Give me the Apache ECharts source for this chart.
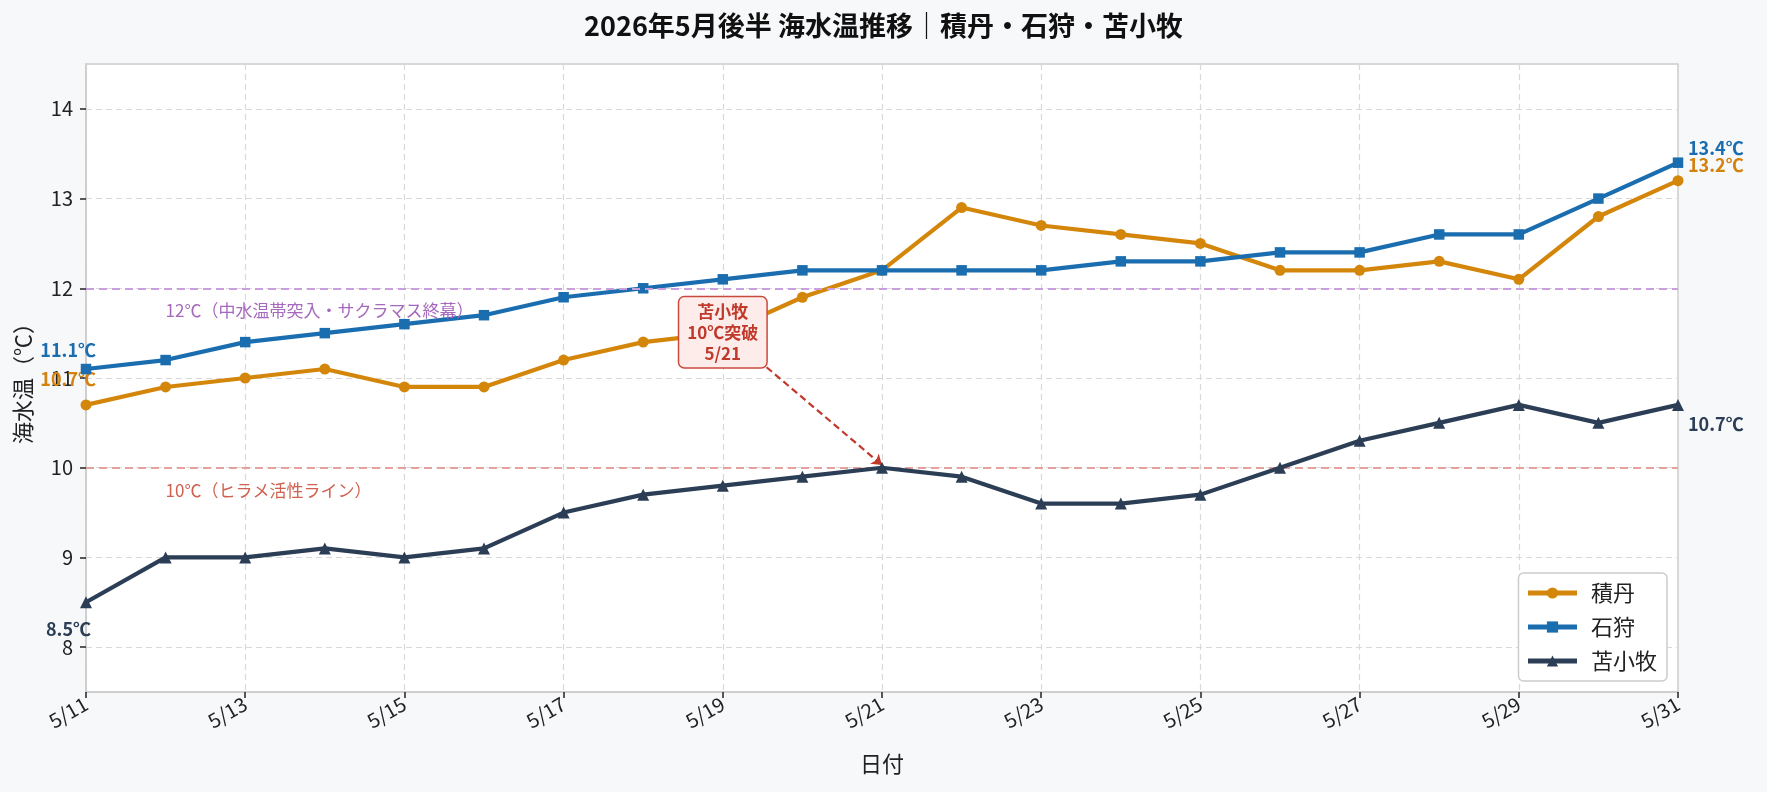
<!DOCTYPE html>
<html>
<head>
<meta charset="utf-8">
<script src="https://cdn.jsdelivr.net/npm/echarts@6/dist/echarts.min.js"></script>
<style>
  html, body { margin: 0; padding: 0; background: #f7f8fa; }
  #chart { width: 1767px; height: 792px; }
</style>
</head>
<body>
<div id="chart"></div>
<script>
var dates = ["5/11","5/12","5/13","5/14","5/15","5/16","5/17","5/18","5/19","5/20","5/21",
             "5/22","5/23","5/24","5/25","5/26","5/27","5/28","5/29","5/30","5/31"];
var shakotan = [10.7,10.9,11.0,11.1,10.9,10.9,11.2,11.4,11.5,11.9,12.2,12.9,12.7,12.6,12.5,12.2,12.2,12.3,12.1,12.8,13.2];
var ishikari = [11.1,11.2,11.4,11.5,11.6,11.7,11.9,12.0,12.1,12.2,12.2,12.2,12.2,12.3,12.3,12.4,12.4,12.6,12.6,13.0,13.4];
var tomakomai = [8.5,9.0,9.0,9.1,9.0,9.1,9.5,9.7,9.8,9.9,10.0,9.9,9.6,9.6,9.7,10.0,10.3,10.5,10.7,10.5,10.7];
var yTicks = [8, 9, 10, 11, 12, 13, 14];

var font = "'Noto Sans CJK JP'";

// 先頭・末尾に値ラベルを付ける
function build(values, color, firstOff, lastOff) {
  return values.map(function (v, i) {
    var item = { value: [i, v] };
    if (i === 0 || i === values.length - 1) {
      var first = i === 0;
      item.label = {
        show: true,
        position: "inside",
        align: first ? "right" : "left",
        verticalAlign: "middle",
        offset: first ? firstOff : lastOff,
        formatter: v.toFixed(1) + "℃",
        color: color,
        fontSize: 18,
        fontWeight: "bold",
        fontFamily: font
      };
    }
    return item;
  });
}

var chart = echarts.init(document.getElementById("chart"));
var option = {
  backgroundColor: "#f7f8fa",
  title: {
    text: "2026年5月後半 海水温推移｜積丹・石狩・苫小牧",
    left: "center",
    top: 7,
    textStyle: { fontSize: 27, fontWeight: "bold", color: "#111", fontFamily: font }
  },
  grid: {
    left: 86, right: 89, top: 64, bottom: 100,
    show: true, backgroundColor: "#fff", borderColor: "#cccccc", borderWidth: 1.5
  },
  legend: {
    orient: "vertical",
    right: 100,
    bottom: 111,
    itemWidth: 49,
    itemHeight: 14,
    itemGap: 12,
    padding: [9, 10, 9, 7],
    backgroundColor: "#fff",
    borderColor: "#cccccc",
    borderWidth: 1.5,
    borderRadius: 5,
    lineStyle: { width: 5 },
    textStyle: { fontSize: 22, color: "#222", fontFamily: font, padding: [0, 0, 0, 9] },
    data: ["積丹", "石狩", "苫小牧"]
  },
  xAxis: {
    type: "value",
    min: 0,
    max: 20,
    interval: 2,
    name: "日付",
    nameLocation: "middle",
    nameGap: 61,
    nameTextStyle: { fontSize: 22, color: "#222", fontFamily: font },
    axisLine: { lineStyle: { color: "#cccccc", width: 1.5 } },
    axisTick: { show: true, length: 6, lineStyle: { color: "#222", width: 1.5 } },
    axisLabel: {
      rotate: 30,
      fontSize: 20,
      color: "#222",
      fontFamily: font,
      margin: 10,
      formatter: function (v) { return dates[v]; }
    },
    splitLine: { show: true, lineStyle: { color: "#d9d9d9", type: [6, 4], width: 1.2 } }
  },
  yAxis: {
    type: "value",
    min: 7.5,
    max: 14.5,
    name: "海水温（℃）",
    nameLocation: "middle",
    nameGap: 52,
    nameTextStyle: { fontSize: 22, color: "#222", fontFamily: font },
    axisLine: { show: true, lineStyle: { color: "#cccccc", width: 1.5 } },
    axisTick: { show: true, length: 6, customValues: yTicks, lineStyle: { color: "#222", width: 1.5 } },
    axisLabel: { fontSize: 20, color: "#222", fontFamily: font, margin: 13, customValues: yTicks },
    splitLine: { show: true, lineStyle: { color: "#d9d9d9", type: [6, 4], width: 1.2 } }
  },
  series: [
    {
      name: "積丹",
      type: "line",
      data: build(shakotan, "#d4820e", [10, -26], [10, -15]),
      color: "#d4860b",
      symbol: "circle",
      symbolSize: 11,
      lineStyle: { width: 4.2 },
      z: 3
    },
    {
      name: "石狩",
      type: "line",
      data: build(ishikari, "#1a6daf", [10, -19], [10, -15]),
      color: "#1a6daf",
      symbol: "rect",
      symbolSize: 10.5,
      lineStyle: { width: 4.2 },
      z: 4,
      markLine: {
        silent: true,
        symbol: "none",
        data: [
          { yAxis: 12, lineStyle: { color: "#c9a0dc", type: [8, 5], width: 2 } },
          { yAxis: 10, lineStyle: { color: "#e3a29b", type: [8, 5], width: 2 } }
        ],
        label: { show: false }
      },
      markPoint: {
        silent: true,
        symbol: "circle",
        symbolSize: 0,
        data: [
          { coord: [1, 11.75], label: { formatter: "12℃（中水温帯突入・サクラマス終幕）", color: "#a569bd" } },
          { coord: [1, 9.75], label: { formatter: "10℃（ヒラメ活性ライン）", color: "#d0604f" } }
        ],
        label: {
          show: true,
          position: "inside",
          align: "left",
          verticalAlign: "middle",
          fontSize: 17,
          fontFamily: font
        }
      }
    },
    {
      name: "苫小牧",
      type: "line",
      data: build(tomakomai, "#2c3e56", [5, 27], [10, 19]),
      color: "#2c3e56",
      symbol: "triangle",
      symbolSize: 12,
      lineStyle: { width: 4.2 },
      z: 5,
      markLine: {
        silent: true,
        symbol: ["none", "arrow"],
        symbolSize: 10,
        data: [[{ coord: [8.55, 11.12] }, { coord: [10, 10.03] }]],
        lineStyle: { color: "#c0392b", type: [7, 4], width: 2.2 },
        label: { show: false }
      },
      markPoint: {
        silent: true,
        symbol: "circle",
        symbolSize: 0,
        data: [{ coord: [8, 11.51] }],
        label: {
          show: true,
          position: "inside",
          align: "center",
          verticalAlign: "middle",
          formatter: "苫小牧\n10℃突破\n5/21",
          color: "#c0392b",
          fontSize: 17,
          fontWeight: "bold",
          lineHeight: 21,
          fontFamily: font,
          backgroundColor: "#fdecea",
          borderColor: "#c94a3d",
          borderWidth: 1.5,
          borderRadius: 5,
          padding: [4, 8, 3, 8]
        }
      }
    }
  ]
};
chart.setOption(option);
</script>
</body>
</html>
